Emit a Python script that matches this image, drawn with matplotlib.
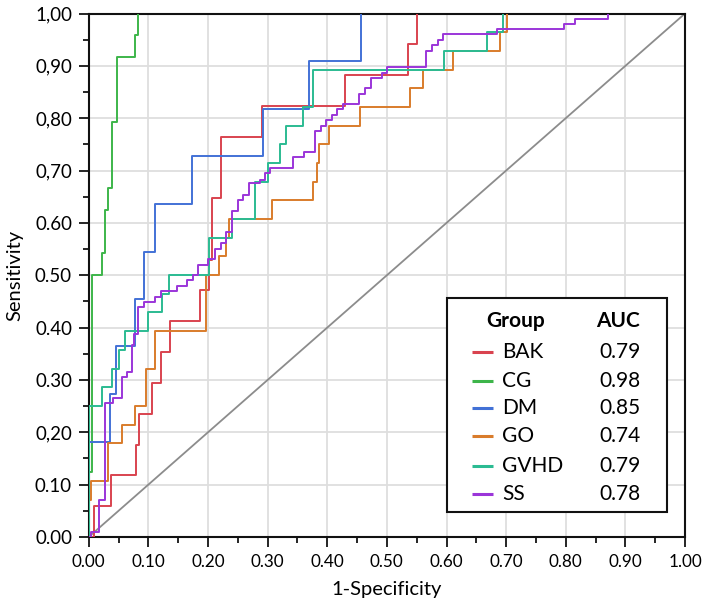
import numpy as np
import matplotlib.pyplot as plt
from matplotlib.ticker import MultipleLocator
from matplotlib.patches import Rectangle

plt.rcParams['font.family'] = ['Lato', 'DejaVu Sans']

# ROC curves: (1-specificity, sensitivity) at each step
bak_fpr = [0, 0.009, 0.037, 0.079, 0.084, 0.106, 0.121, 0.137, 0.186, 0.201, 0.206, 0.222, 0.291, 0.429, 0.536, 0.551]
bak_tpr = [0, 0.059, 0.118, 0.176, 0.235, 0.294, 0.353, 0.412, 0.471, 0.529, 0.647, 0.765, 0.824, 0.882, 0.941, 1.0]

cg_fpr = [0, 0, 0.005, 0.022, 0.027, 0.033, 0.039, 0.048, 0.077, 0.082]
cg_tpr = [0, 0.125, 0.5, 0.542, 0.625, 0.667, 0.792, 0.917, 0.958, 1.0]

dm_fpr = [0, 0, 0.036, 0.046, 0.077, 0.093, 0.111, 0.174, 0.292, 0.369, 0.457]
dm_tpr = [0, 0.182, 0.273, 0.364, 0.455, 0.545, 0.636, 0.727, 0.818, 0.909, 1.0]

go_fpr = [0, 0, 0.003, 0.033, 0.055, 0.078, 0.096, 0.111, 0.196, 0.218, 0.230, 0.236, 0.308,
          0.376, 0.382, 0.387, 0.403, 0.455, 0.539, 0.561, 0.611, 0.690, 0.701]
go_tpr = [0, 0.071, 0.107, 0.179, 0.214, 0.25, 0.321, 0.393, 0.5, 0.536, 0.571, 0.607, 0.643,
          0.679, 0.714, 0.75, 0.786, 0.821, 0.857, 0.893, 0.929, 0.964, 1.0]

gvhd_fpr = [0, 0, 0.022, 0.039, 0.050, 0.061, 0.100, 0.123, 0.135, 0.202, 0.241, 0.279, 0.301,
            0.320, 0.331, 0.359, 0.376, 0.595, 0.668, 0.695]
gvhd_tpr = [0, 0.25, 0.286, 0.321, 0.357, 0.393, 0.429, 0.464, 0.5, 0.571, 0.607, 0.679, 0.714,
            0.75, 0.786, 0.821, 0.893, 0.929, 0.964, 1.0]

ss_fpr = [0, 0.003, 0.017, 0.028, 0.040, 0.055, 0.065, 0.073, 0.076, 0.083, 0.093, 0.111, 0.121,
          0.148, 0.164, 0.175, 0.184, 0.200, 0.212, 0.221, 0.230, 0.241, 0.250, 0.259, 0.269,
          0.287, 0.296, 0.304, 0.342, 0.361, 0.380, 0.389, 0.398, 0.408, 0.417, 0.426, 0.454,
          0.463, 0.473, 0.491, 0.501, 0.566, 0.575, 0.585, 0.594, 0.685, 0.797, 0.816, 0.871]
ss_tpr = [0, 0.010, 0.071, 0.255, 0.265, 0.306, 0.316, 0.367, 0.388, 0.439, 0.449, 0.459, 0.469,
          0.480, 0.490, 0.500, 0.520, 0.531, 0.551, 0.561, 0.582, 0.622, 0.643, 0.653, 0.676,
          0.682, 0.695, 0.704, 0.725, 0.735, 0.776, 0.786, 0.797, 0.806, 0.817, 0.827, 0.846,
          0.857, 0.877, 0.887, 0.897, 0.929, 0.940, 0.950, 0.960, 0.970, 0.980, 0.990, 1.0]

groups = ["BAK", "CG", "DM", "GO", "GVHD", "SS"]
auc = ["0.79", "0.98", "0.85", "0.74", "0.79", "0.78"]
colors = ["#d9434f", "#3db54a", "#4271d6", "#d97c2b", "#2bbb92", "#9b35d9"]
curves = [(bak_fpr, bak_tpr), (cg_fpr, cg_tpr), (dm_fpr, dm_tpr),
          (go_fpr, go_tpr), (gvhd_fpr, gvhd_tpr), (ss_fpr, ss_tpr)]

tick_vals = np.arange(0, 1.01, 0.1)
x_labels = ["0.00", "0.10", "0.20", "0.30", "0.40", "0.50", "0.60", "0.70", "0.80", "0.90", "1.00"]
y_labels = ["0.00", "0.10", "0,20", "0.30", "0.40", "0.50", "0.60", "0,70", "0,80", "0,90", "1,00"]

fig = plt.figure(figsize=(7.02, 6.06), dpi=100)
ax = fig.add_axes([0.1264, 0.1139, 0.8494, 0.8638])

ax.plot([0, 1], [0, 1], color="#8c8c8c", lw=1.3, zorder=2)
for (fx, ty), c in zip(curves, colors):
    ax.plot(fx, ty, drawstyle="steps-post", color=c, lw=1.4, zorder=3)

ax.set_xlim(0, 1)
ax.set_ylim(0, 1)
ax.set_xticks(tick_vals)
ax.set_yticks(tick_vals)
ax.set_xticklabels(x_labels)
ax.set_yticklabels(y_labels)
ax.xaxis.set_minor_locator(MultipleLocator(0.05))
ax.yaxis.set_minor_locator(MultipleLocator(0.05))
ax.tick_params(which="major", direction="out", length=7, width=1.2, labelsize=12.3, pad=5)
ax.tick_params(axis="y", which="major", labelsize=13.5)
ax.tick_params(which="minor", direction="out", length=4, width=1.2)
ax.grid(True, which="major", color="#dedede", lw=1.3, zorder=0)
ax.set_axisbelow(True)
for s in ax.spines.values():
    s.set_linewidth(1.5)
    s.set_color("#111111")

ax.set_xlabel("1-Specificity", fontsize=14.5, labelpad=8)
ax.set_ylabel("Sensitivity", fontsize=14.5, labelpad=8)

# legend table
ax.add_patch(Rectangle((0.600, 0.047), 0.369, 0.410, facecolor="white",
                       edgecolor="#111111", lw=1.5, zorder=5))
ax.text(0.716, 0.413, "Group", fontsize=15, fontweight="bold", ha="center", va="center", zorder=6)
ax.text(0.888, 0.413, "AUC", fontsize=15, fontweight="bold", ha="center", va="center", zorder=6)
row_y = [0.354, 0.298, 0.246, 0.192, 0.136, 0.083]
for g, a, c, yy in zip(groups, auc, colors, row_y):
    ax.plot([0.642, 0.678], [yy, yy], color=c, lw=2.2, zorder=6, solid_capstyle="butt")
    ax.text(0.693, yy, g, fontsize=15, ha="left", va="center", zorder=6)
    ax.text(0.891, yy, a, fontsize=15, ha="center", va="center", zorder=6)

plt.savefig("out.png", dpi=100)
